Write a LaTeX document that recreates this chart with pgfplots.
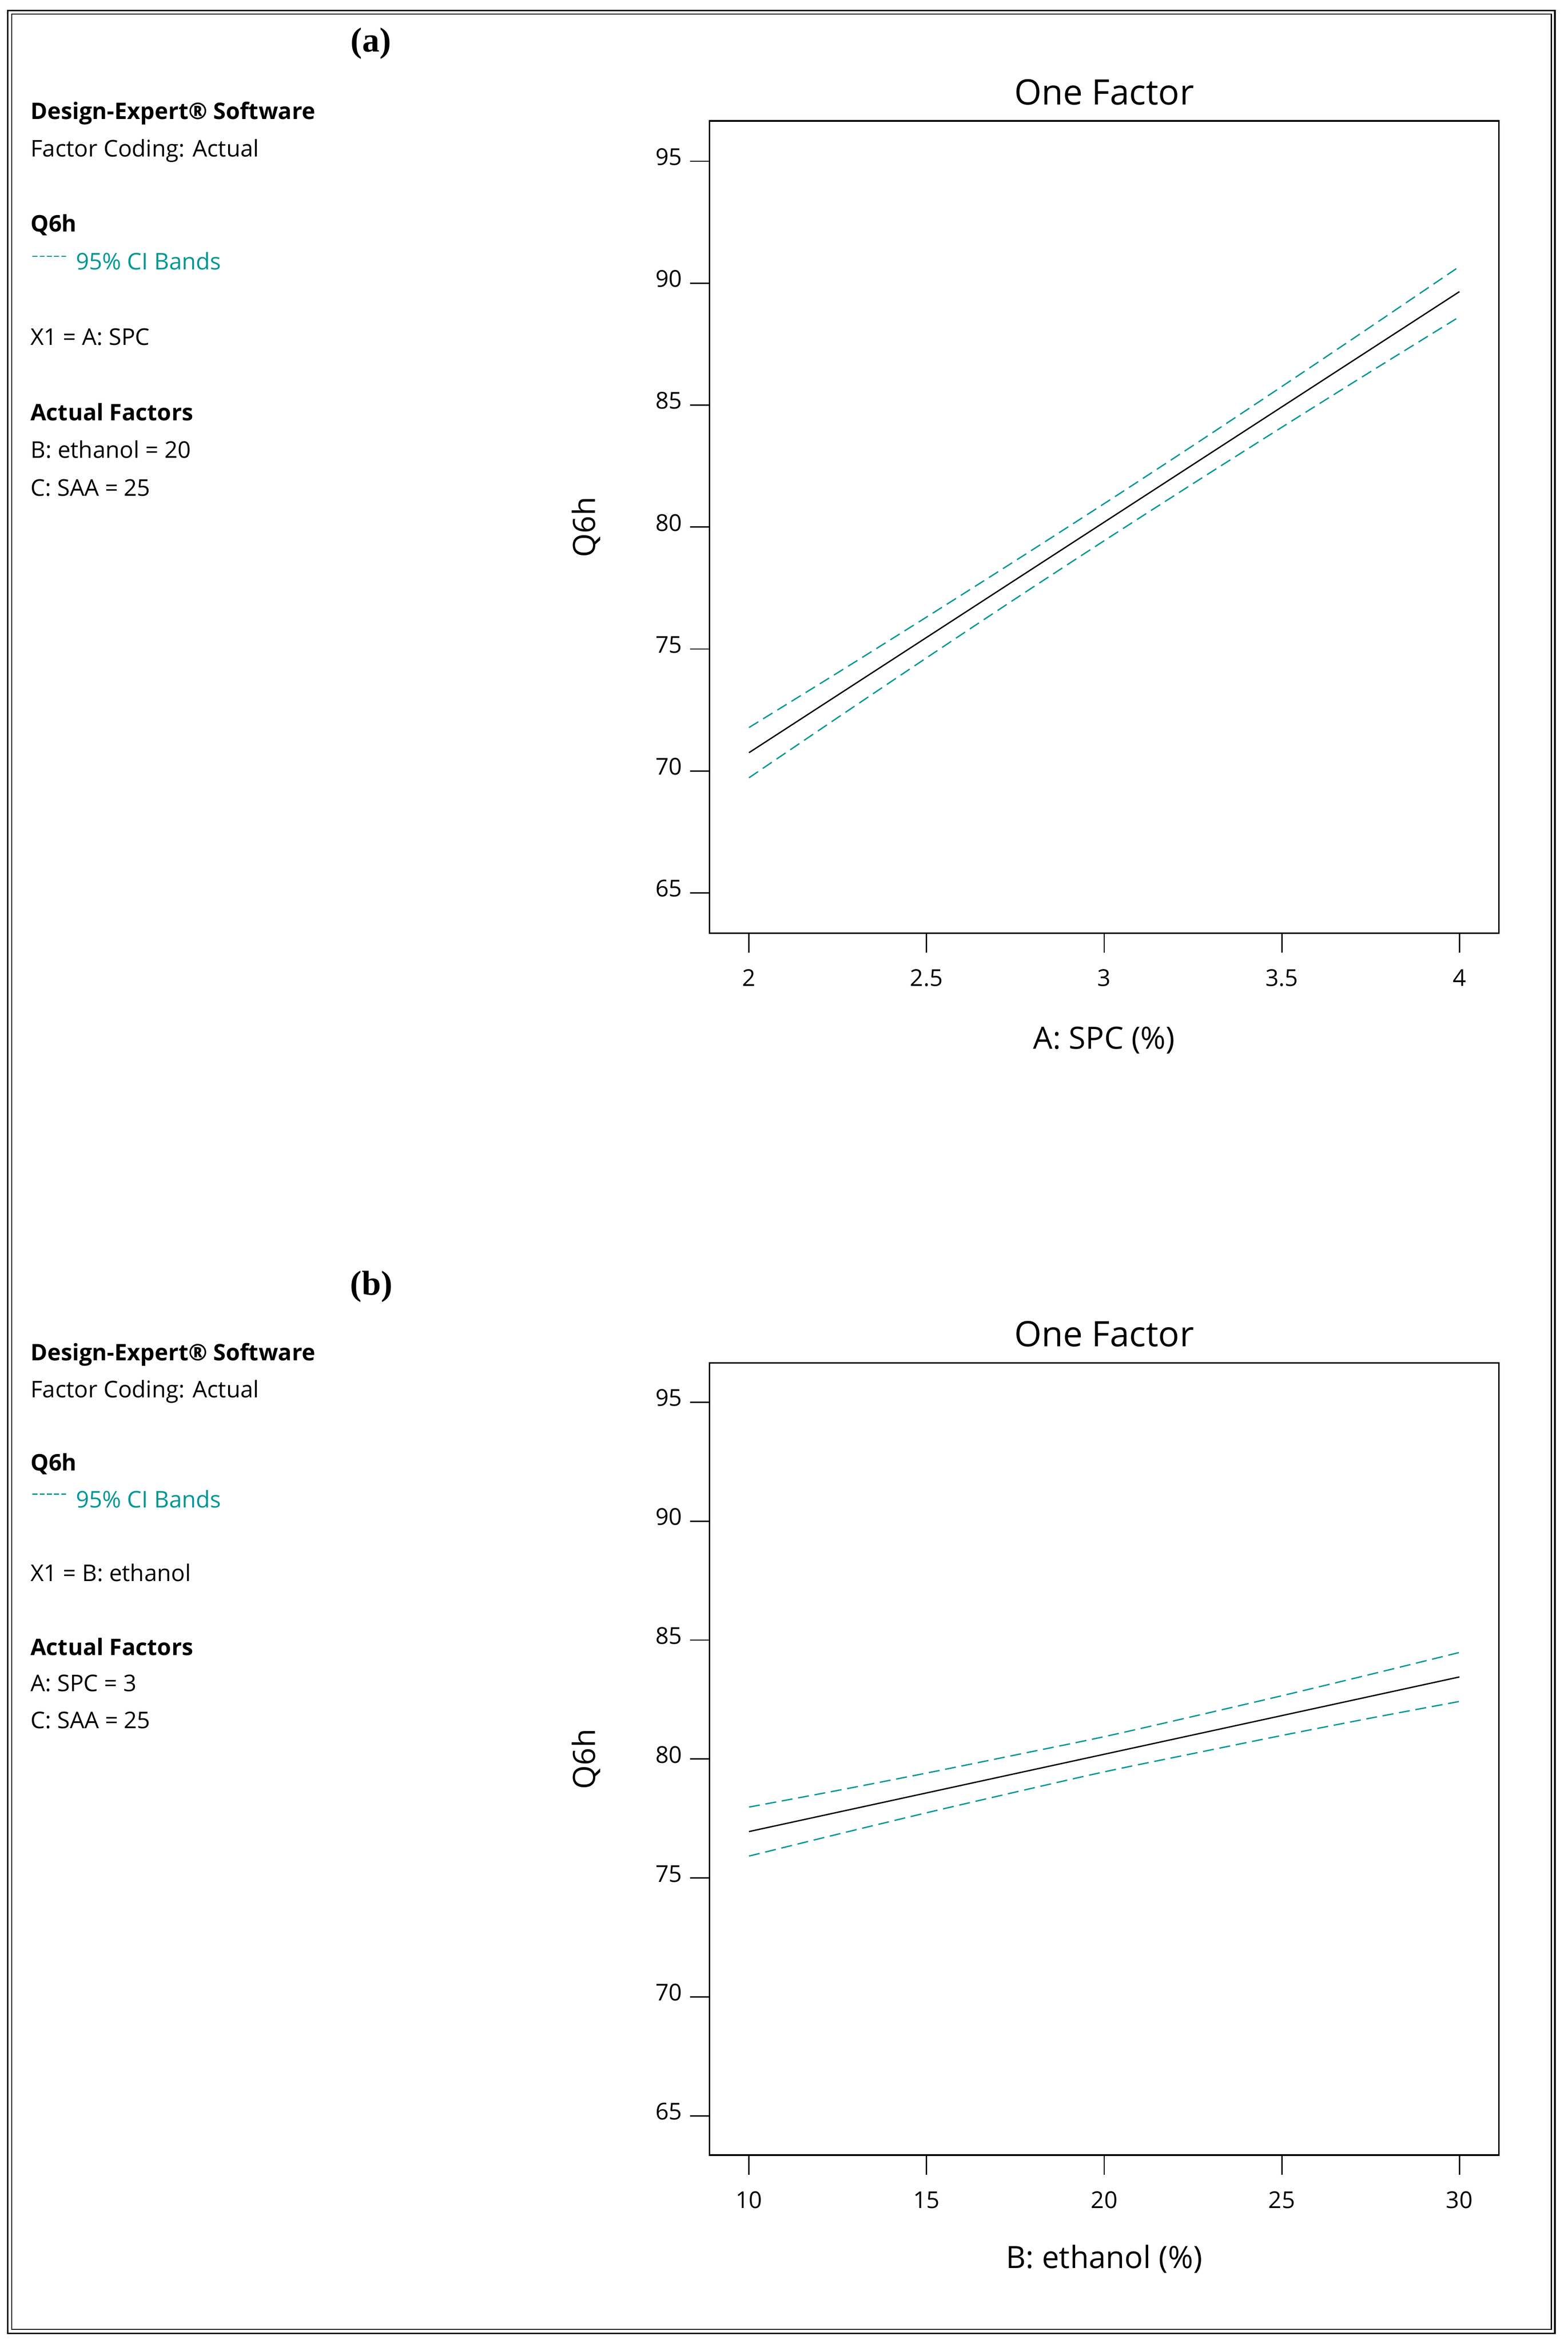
\documentclass[border=0pt]{standalone}
\usepackage{fontspec}
\setmainfont{Open Sans}
\newfontfamily\labserif{Liberation Serif}
\usepackage{pgfplots}
\pgfplotsset{compat=1.18}
\definecolor{cteal}{RGB}{0,150,150}
\pgfplotsset{oneF/.style={
  scale only axis, width=360.4pt,
  axis line style={line width=0.8pt},
  every tick/.style={black, line width=0.6pt},
  tick align=outside, major tick length=9pt,
  xtick pos=bottom, ytick pos=left,
  ymin=63.35, ymax=96.65, ytick={65,70,75,80,85,90,95},
  /pgf/number format/assume math mode=true,
  ticklabel style={font=\fontsize{10.6}{12}\selectfont},
  xticklabel style={anchor=base, yshift=-15.2pt},
  yticklabel style={anchor=base east, yshift=-1.8pt},
  title={One Factor},
  title style={at={(axis description cs:0.5,1)}, anchor=base, yshift=1.4pt, font=\fontsize{16}{19}\selectfont},
  xlabel style={at={(axis description cs:0.5,-0.1428)}, anchor=base, font=\fontsize{14}{17}\selectfont},
  ylabel={Q6h},
  ylabel style={at={(axis description cs:-0.1448,0.5)}, anchor=base, font=\fontsize{14}{17}\selectfont},
  mean/.style={black, line width=0.6pt},
  ci/.style={cteal, line width=0.6pt, dash pattern=on 5pt off 2.6pt, smooth},
}}
\newcommand{\sidetext}[1]{\fontsize{10.5}{12.6}\selectfont #1}
\newcommand{\sidebold}[1]{\fontsize{10.4}{12.6}\selectfont\bfseries #1}
\begin{document}
\begin{tikzpicture}
\path (0,0) rectangle (715.8pt,-1069.6pt);
% double frame
\draw[line width=0.7pt] (3.6pt,-4.8pt) rectangle (710pt,-1065.2pt);
\draw[line width=0.5pt] (5.4pt,-6.4pt) rectangle (708.4pt,-1063.4pt);

% ---------- panel (a) text ----------
\node[anchor=base, inner sep=0pt, font=\labserif\bfseries\fontsize{15.8}{18}\selectfont] at (169.4pt,-23.6pt) {(a)};
\node[anchor=base west, inner sep=0pt] at (13.8pt,-54.4pt) {\sidebold{Design-Expert® Software}};
\node[anchor=base west, inner sep=0pt] at (13.8pt,-71.6pt) {\sidetext{Factor Coding: Actual}};
\node[anchor=base west, inner sep=0pt] at (13.8pt,-105.8pt) {\sidebold{Q6h}};
\draw[cteal, line width=0.6pt, dash pattern=on 2.3pt off 0.98pt] (14.8pt,-117pt) -- (30.2pt,-117pt);
\node[anchor=base west, inner sep=0pt, text=cteal] at (34.6pt,-123.2pt) {\sidetext{95\% CI Bands}};
\node[anchor=base west, inner sep=0pt] at (13.8pt,-157.6pt) {\sidetext{X1 = A: SPC}};
\node[anchor=base west, inner sep=0pt] at (13.8pt,-192pt) {\sidebold{Actual Factors}};
\node[anchor=base west, inner sep=0pt] at (13.8pt,-209.2pt) {\sidetext{B: ethanol = 20}};
\node[anchor=base west, inner sep=0pt] at (13.8pt,-226.4pt) {\sidetext{C: SAA = 25}};

% ---------- panel (a) axis ----------
\begin{axis}[oneF, at={(324pt,-426pt)}, anchor=south west, height=370.8pt,
  xmin=1.889, xmax=4.111, xtick={2,2.5,3,3.5,4},
  xlabel={A: SPC (\%)}]
\addplot[mean] coordinates {(2,70.75) (4,89.65)};
\addplot[ci] coordinates {(2,71.78) (2.25,74.03) (2.5,76.31) (2.75,78.62) (3,80.96) (3.25,83.34) (3.5,85.76) (3.75,88.21) (4,90.68)};
\addplot[ci] coordinates {(2,69.72) (2.25,72.19) (2.5,74.64) (2.75,77.06) (3,79.44) (3.25,81.78) (3.5,84.09) (3.75,86.37) (4,88.62)};
\end{axis}

% ---------- panel (b) text ----------
\node[anchor=base, inner sep=0pt, font=\labserif\bfseries\fontsize{15.8}{18}\selectfont] at (169.6pt,-591.2pt) {(b)};
\node[anchor=base west, inner sep=0pt] at (13.8pt,-621.2pt) {\sidebold{Design-Expert® Software}};
\node[anchor=base west, inner sep=0pt] at (13.8pt,-638pt) {\sidetext{Factor Coding: Actual}};
\node[anchor=base west, inner sep=0pt] at (13.8pt,-671.4pt) {\sidebold{Q6h}};
\draw[cteal, line width=0.6pt, dash pattern=on 2.3pt off 0.98pt] (14.8pt,-682pt) -- (30.2pt,-682pt);
\node[anchor=base west, inner sep=0pt, text=cteal] at (34.6pt,-688.2pt) {\sidetext{95\% CI Bands}};
\node[anchor=base west, inner sep=0pt] at (13.8pt,-721.8pt) {\sidetext{X1 = B: ethanol}};
\node[anchor=base west, inner sep=0pt] at (13.8pt,-755.6pt) {\sidebold{Actual Factors}};
\node[anchor=base west, inner sep=0pt] at (13.8pt,-772.2pt) {\sidetext{A: SPC = 3}};
\node[anchor=base west, inner sep=0pt] at (13.8pt,-789pt) {\sidetext{C: SAA = 25}};

% ---------- panel (b) axis ----------
\begin{axis}[oneF, at={(324pt,-983.8pt)}, anchor=south west, height=361.6pt,
  xmin=8.89, xmax=31.11, xtick={10,15,20,25,30},
  xlabel={B: ethanol (\%)}]
\addplot[mean] coordinates {(10,76.95) (30,83.45)};
\addplot[ci] coordinates {(10,77.98) (12.5,78.68) (15,79.41) (17.5,80.17) (20,80.94) (22.5,81.79) (25,82.66) (27.5,83.56) (30,84.48)};
\addplot[ci] coordinates {(10,75.92) (12.5,76.84) (15,77.74) (17.5,78.61) (20,79.46) (22.5,80.23) (25,80.99) (27.5,81.72) (30,82.42)};
\end{axis}
\end{tikzpicture}
\end{document}
